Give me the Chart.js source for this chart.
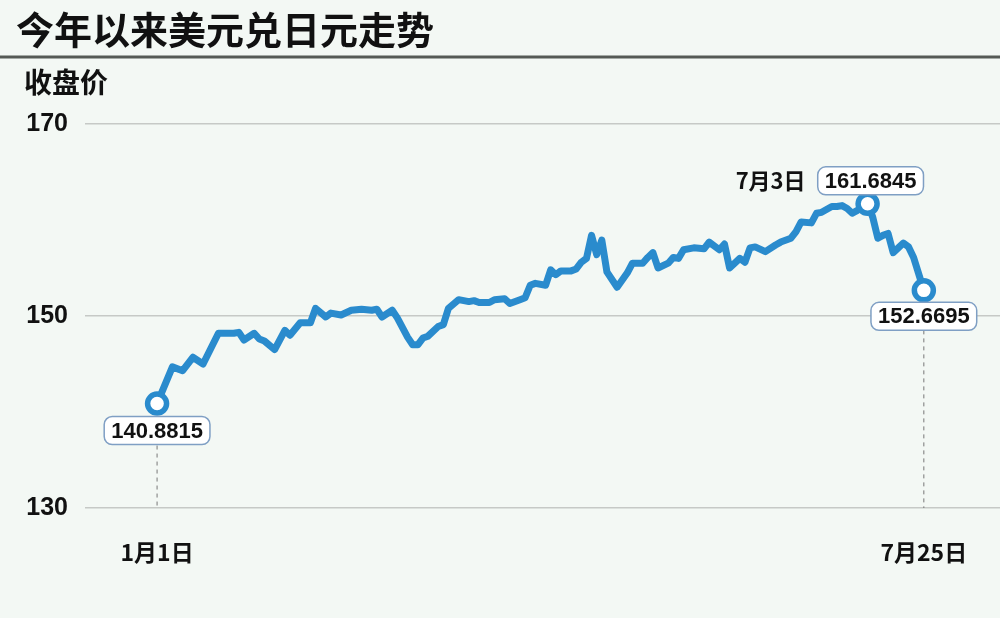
<!DOCTYPE html>
<html>
<head>
<meta charset="utf-8">
<script src="https://cdn.jsdelivr.net/npm/chart.js@4.4.0/dist/chart.umd.min.js"></script>
<style>
  body { margin: 0; background: #f3f8f4; }
  #wrap { width: 1000px; height: 618px; }
</style>
</head>
<body>
<div id="wrap"><canvas id="myChart" width="1000" height="618"></canvas></div>
<script>
// trading-day index (1月1日 = 0, 7月25日 = 150) and close
const dayIdx = [
  0, 3, 5, 7, 9, 12, 15, 16, 17, 19,
  20, 21, 23, 25, 26, 28, 30, 31, 33, 34,
  36, 38, 40, 42, 43, 44, 46, 47, 49, 50,
  51, 52, 53, 55, 56, 57, 59, 61, 62, 63,
  65, 66, 68, 69, 71, 72, 73, 74, 76, 77,
  78, 79, 81, 82, 83, 84, 85, 86, 87, 88,
  90, 92, 93, 95, 96, 97, 98, 100, 101, 102,
  103, 105, 107, 108, 110, 111, 112, 114, 115, 116,
  117, 119, 121, 122, 124, 125, 126, 128, 129, 130,
  132, 133, 134, 135, 136, 137, 139, 140, 141, 142,
  143, 144, 145, 146, 147, 148, 150
];
const closes = [
  140.8815, 144.7, 144.3, 145.7, 145.0, 148.2, 148.2, 148.3, 147.5, 148.2,
  147.6, 147.4, 146.5, 148.5, 148.0, 149.3, 149.3, 150.8, 149.9, 150.3,
  150.1, 150.6, 150.7, 150.6, 150.7, 149.9, 150.6, 149.8, 147.8, 147.0,
  147.0, 147.7, 147.9, 148.9, 149.1, 150.8, 151.7, 151.5, 151.6, 151.4,
  151.4, 151.7, 151.8, 151.3, 151.7, 151.9, 153.2, 153.4, 153.2, 154.8,
  154.3, 154.7, 154.7, 154.9, 155.6, 156.0, 158.4, 156.4, 157.9, 154.6,
  153.0, 154.5, 155.5, 155.5, 156.1, 156.6, 155.0, 155.5, 156.1, 156.0,
  156.9, 157.1, 157.0, 157.7, 156.9, 157.5, 155.0, 156.0, 155.6, 157.1,
  157.2, 156.7, 157.4, 157.7, 158.1, 158.8, 159.8, 159.7, 160.7, 160.8,
  161.4, 161.4, 161.5, 161.2, 160.7, 161.0, 161.6845, 160.3, 158.1, 158.4,
  158.6, 156.6, 157.1, 157.6, 157.2, 156.1, 152.6695
];

const xTickDays = [0, 150];
const xTickLabels = ["1月1日", "7月25日"];
const yTicks = [130, 150, 170];

// marked points: first, 7月3日 peak, last
const markIdx = [0, 96, dayIdx.length - 1];
const markText = ["140.8815", "161.6845", "152.6695"];
const peakDateLabel = "7月3日";

const blue = "#2a8bcd";
const numFont = '"Liberation Sans", "Noto Sans CJK SC", sans-serif';
const cjkFont = '"Noto Sans CJK SC", "Liberation Sans", sans-serif';

function roundBox(ctx, x, y, w, h, r) {
  ctx.beginPath();
  ctx.moveTo(x + r, y);
  ctx.arcTo(x + w, y, x + w, y + h, r);
  ctx.arcTo(x + w, y + h, x, y + h, r);
  ctx.arcTo(x, y + h, x, y, r);
  ctx.arcTo(x, y, x + w, y, r);
  ctx.closePath();
}

const decor = {
  id: "decor",
  beforeDraw(chart) {
    const ctx = chart.ctx;
    ctx.save();
    ctx.fillStyle = "#f3f8f4";
    ctx.fillRect(0, 0, chart.width, chart.height);
    // title
    ctx.fillStyle = "#111";
    ctx.font = "bold 38px " + cjkFont;
    ctx.textBaseline = "middle";
    ctx.textAlign = "left";
    ctx.fillText("今年以来美元兑日元走势", 16, 30);
    ctx.strokeStyle = "#555a55";
    ctx.lineWidth = 3;
    ctx.beginPath();
    ctx.moveTo(0, 57);
    ctx.lineTo(chart.width, 57);
    ctx.stroke();
    ctx.font = "bold 28px " + cjkFont;
    ctx.fillText("收盘价", 24, 82);
    ctx.restore();
  },
  beforeDatasetsDraw(chart) {
    const ctx = chart.ctx;
    const xs = chart.scales.x, ys = chart.scales.y;
    ctx.save();
    ctx.strokeStyle = "#777";
    ctx.lineWidth = 1;
    ctx.setLineDash([4, 4]);
    const first = xs.getPixelForValue(dayIdx[0]);
    const last = xs.getPixelForValue(dayIdx[dayIdx.length - 1]);
    const startY = ys.getPixelForValue(closes[0]) + 42;
    const endY = ys.getPixelForValue(closes[closes.length - 1]) + 40;
    ctx.beginPath();
    ctx.moveTo(first, startY);
    ctx.lineTo(first, chart.chartArea.bottom);
    ctx.moveTo(last, endY);
    ctx.lineTo(last, chart.chartArea.bottom);
    ctx.stroke();
    ctx.restore();
  },
  afterDatasetsDraw(chart) {
    const ctx = chart.ctx;
    const xs = chart.scales.x, ys = chart.scales.y;
    const offsets = [27, -23, 26];
    ctx.save();
    ctx.font = "bold 22px " + numFont;
    ctx.textBaseline = "middle";
    ctx.textAlign = "center";
    markIdx.forEach((idx, k) => {
      const px = xs.getPixelForValue(dayIdx[idx]);
      const py = ys.getPixelForValue(closes[idx]) + offsets[k];
      const cx = k === 1 ? px + 3 : px;
      const w = ctx.measureText(markText[k]).width + 14;
      roundBox(ctx, cx - w / 2, py - 14, w, 28, 8);
      ctx.fillStyle = "#ffffff";
      ctx.fill();
      ctx.strokeStyle = "#7f9fc4";
      ctx.lineWidth = 1.5;
      ctx.stroke();
      ctx.fillStyle = "#111";
      ctx.fillText(markText[k], cx, py + 1);
      if (k === 1) {
        ctx.font = "bold 22px " + cjkFont;
        ctx.fillText(peakDateLabel, cx - 100, py);
        ctx.font = "bold 22px " + numFont;
      }
    });
    ctx.restore();
  }
};

const ctx = document.getElementById("myChart").getContext("2d");
const chart = new Chart(ctx, {
  type: "line",
  data: {
    datasets: [{
      label: "收盘价",
      data: dayIdx.map((d, i) => ({ x: d, y: closes[i] })),
      borderColor: blue,
      borderWidth: 7,
      borderJoinStyle: "round",
      borderCapStyle: "round",
      tension: 0,
      pointRadius: c => markIdx.includes(c.dataIndex) ? 9.5 : 0,
      pointHoverRadius: 0,
      pointBorderWidth: 5.5,
      pointBorderColor: blue,
      pointBackgroundColor: "#ffffff"
    }]
  },
  options: {
    responsive: false,
    animation: false,
    layout: { autoPadding: false, padding: { top: 124, left: 0, right: 0, bottom: 0 } },
    plugins: { legend: { display: false }, tooltip: { enabled: false } },
    scales: {
      x: {
        type: "linear",
        min: -14.1,
        max: 164.9,
        grid: { display: false },
        border: { display: false },
        afterBuildTicks: axis => { axis.ticks = xTickDays.map(v => ({ value: v })); },
        afterFit: s => { s.height = 110; s.paddingLeft = 0; s.paddingRight = 0; },
        ticks: {
          padding: 22,
          maxRotation: 0,
          autoSkip: false,
          color: "#111",
          font: { family: cjkFont, size: 23, weight: "bold" },
          callback: v => xTickLabels[xTickDays.indexOf(v)]
        }
      },
      y: {
        min: 130,
        max: 170,
        afterBuildTicks: axis => { axis.ticks = yTicks.map(v => ({ value: v })); },
        afterFit: s => { s.width = 85; s.paddingTop = 0; s.paddingBottom = 0; },
        border: { display: false },
        grid: { color: "#c6c9c6", lineWidth: 1.5, drawTicks: false },
        ticks: {
          padding: 17,
          color: "#111",
          font: { family: numFont, size: 25, weight: "bold" }
        }
      }
    }
  },
  plugins: [decor]
});
</script>
</body>
</html>
